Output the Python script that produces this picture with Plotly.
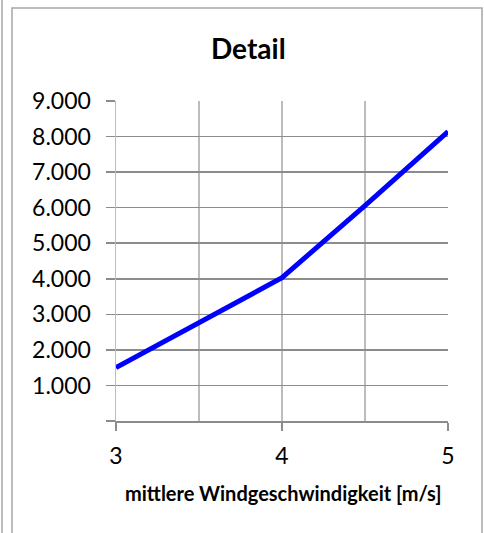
import plotly.graph_objects as go

# Data
wind_speed = [3, 3.5, 4, 4.5, 5]
values = [1500, 2770, 4030, 6060, 8140]
y_ticks = [0, 1000, 2000, 3000, 4000, 5000, 6000, 7000, 8000, 9000]
y_tick_labels = ["", "1.000", "2.000", "3.000", "4.000", "5.000", "6.000", "7.000", "8.000", "9.000"]
x_ticks = [3, 4, 5]
x_tick_labels = ["3", "4", "5"]
title_text = "Detail"
x_title_text = "mittlere Windgeschwindigkeit [m/s]"

W, H = 484, 533
L, R, T, B = 116, 36, 101, 112
PW, PH = W - L - R, H - T - B


def px(x):
    return (x - L) / PW


def py(y):
    return (H - B - y) / PH


FONT = "Lato"

fig = go.Figure()
fig.add_trace(go.Scatter(
    x=wind_speed, y=values, mode="lines",
    line=dict(color="#0000ff", width=5),
    cliponaxis=False, showlegend=False, hoverinfo="skip",
))

fig.update_layout(
    width=W, height=H,
    margin=dict(l=L, r=R, t=T, b=B, pad=0),
    paper_bgcolor="white", plot_bgcolor="white",
    font=dict(family=FONT, color="black"),
    xaxis=dict(
        range=[3, 5], tickvals=x_ticks, ticktext=x_tick_labels,
        showgrid=True, gridcolor="#bdbdbd", gridwidth=1.5,
        minor=dict(dtick=0.5, tick0=3, showgrid=True, gridcolor="#bdbdbd", gridwidth=1.5, ticks=""),
        showline=True, linecolor="#8c8c8c", linewidth=1.5,
        ticks="outside", ticklen=8, tickwidth=1.5, tickcolor="#8c8c8c",
        tickfont=dict(size=23, family=FONT), ticklabelstandoff=6,
        zeroline=False, fixedrange=True,
    ),
    yaxis=dict(
        range=[0, 9000], tickvals=y_ticks, ticktext=y_tick_labels,
        showgrid=True, gridcolor="#8c8c8c", gridwidth=1.5,
        showline=True, linecolor="#bdbdbd", linewidth=1.5,
        ticks="outside", ticklen=9, tickwidth=1.5, tickcolor="#8c8c8c",
        tickfont=dict(size=23, family=FONT), ticklabelstandoff=10,
        zeroline=False, fixedrange=True,
    ),
    shapes=[
        dict(type="rect", xref="paper", yref="paper",
             x0=px(12), x1=px(482), y0=py(560), y1=py(8),
             line=dict(color="#a6a6a6", width=1.5), layer="below"),
        dict(type="line", xref="paper", yref="paper",
             x0=px(2), x1=px(2), y0=py(560), y1=py(-10),
             line=dict(color="#a6a6a6", width=1.5), layer="below"),
    ],
    annotations=[
        dict(text="<b>" + title_text + "</b>", xref="paper", yref="paper",
             x=px(248), y=py(48), xanchor="center", yanchor="middle",
             showarrow=False, font=dict(size=28, family=FONT)),
        dict(text="<b>" + x_title_text + "</b>", xref="paper", yref="paper",
             x=px(283), y=py(493), xanchor="center", yanchor="middle",
             showarrow=False, font=dict(size=20, family=FONT)),
    ],
)

fig.write_html(
    "out.html",
    config={"displayModeBar": False, "staticPlot": True},
    post_script="document.body.style.margin='0';document.body.style.padding='0';",
)
